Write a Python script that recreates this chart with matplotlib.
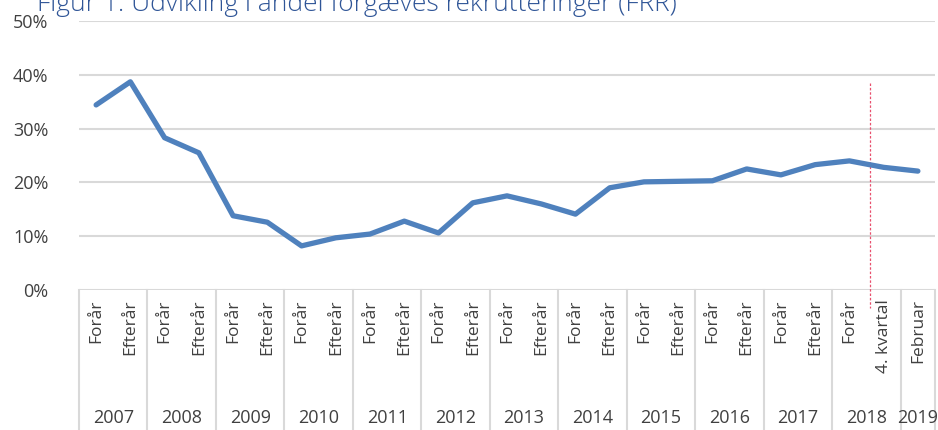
import matplotlib
matplotlib.use("Agg")
import matplotlib.pyplot as plt
import matplotlib.transforms as mtransforms

# data
years = ["2007", "2008", "2009", "2010", "2011", "2012", "2013", "2014",
         "2015", "2016", "2017", "2018", "2019"]
year_sizes = [2, 2, 2, 2, 2, 2, 2, 2, 2, 2, 2, 2, 1]
periods = ["Forår", "Efterår"] * 11 + ["Forår", "4. kvartal", "Februar"]
frr = [34.4, 38.7, 28.3, 25.5, 13.8, 12.6, 8.2, 9.7, 10.4, 12.8, 10.6, 16.2,
       17.5, 16.0, 14.1, 19.0, 20.1, 20.2, 20.3, 22.5, 21.4, 23.3, 24.0, 22.8, 22.1]
yticks = [0, 10, 20, 30, 40, 50]
marker_x = 22.6
marker_y = (38.5, -3.3)

plt.rcParams["font.family"] = ["Open Sans", "DejaVu Sans"]
GRID = "#D9D9D9"
TXT = "#404040"

fig = plt.figure(figsize=(9.38, 4.30), dpi=100)
ax = fig.add_axes([79 / 938, 140 / 430, 856 / 938, 269 / 430])

x = list(range(len(frr)))
ax.plot(x, frr, color="#4F81BD", lw=3.8, solid_capstyle="round",
        solid_joinstyle="round", zorder=3)

ax.set_xlim(-0.5, len(frr) - 0.5)
ax.set_ylim(0, 50)
ax.set_yticks(yticks)
ax.set_yticklabels([f"{v}%" for v in yticks], fontsize=13, color=TXT)
ax.tick_params(axis="y", length=0, pad=22)
ax.set_xticks([])
for v in yticks:
    ax.axhline(v, color=GRID, lw=1.5, zorder=1)
for s in ax.spines.values():
    s.set_visible(False)

# dotted marker line
ax.plot([marker_x, marker_x], marker_y, color="#E8506E", lw=0.9,
        ls=(0, (2, 1.5)), clip_on=False, zorder=2)

# two-level category axis
trans = mtransforms.blended_transform_factory(ax.transData, ax.transAxes)
for i, p in enumerate(periods):
    ax.text(i, -0.035, p, rotation=90, ha="center", va="top", fontsize=12.5,
            color=TXT, transform=trans)
start = -0.5
ax.plot([start, start], [0, -0.53], color=GRID, lw=1.5, transform=trans, clip_on=False)
for yr, n in zip(years, year_sizes):
    end = start + n
    ax.plot([end, end], [0, -0.53], color=GRID, lw=1.5, transform=trans, clip_on=False)
    ax.text((start + end) / 2, -0.475, yr, ha="center", va="center",
            fontsize=13, color=TXT, transform=trans)
    start = end

fig.text(37 / 938, 1 - 11 / 430, "Figur 1. Udvikling i andel forgæves rekrutteringer (FRR)",
         fontsize=19, color="#2F5597", va="baseline", ha="left", fontweight="light")

fig.savefig("out.png", dpi=100)
